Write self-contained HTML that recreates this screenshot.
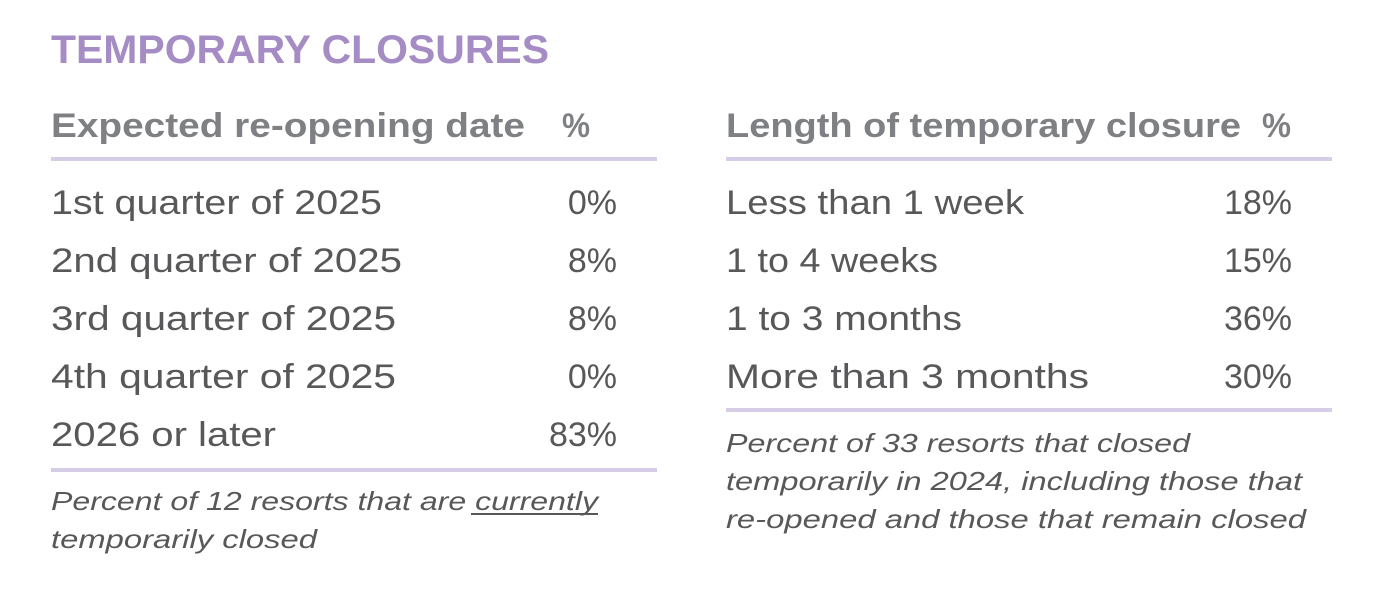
<!DOCTYPE html>
<html><head><meta charset="utf-8"><style>
html,body{margin:0;padding:0;background:#fff;}
svg{display:block;}
text{font-family:"Liberation Sans",sans-serif;}
.t{fill:#a68cc4;font-weight:bold;font-size:40px;}
.h{fill:#7f8084;font-weight:bold;font-size:34px;}
.b{fill:#58585a;font-size:34px;}
.f{fill:#58585a;font-size:26px;font-style:italic;}
</style></head><body>
<svg width="1373" height="597" viewBox="0 0 1373 597" xmlns="http://www.w3.org/2000/svg">
<text class="t" x="51" y="63" textLength="498" lengthAdjust="spacingAndGlyphs">TEMPORARY CLOSURES</text>
<text class="h" x="51" y="137" textLength="474" lengthAdjust="spacingAndGlyphs">Expected re-opening date</text>
<text class="h" x="562" y="137" textLength="28" lengthAdjust="spacingAndGlyphs">%</text>
<text class="h" x="726" y="137" textLength="515" lengthAdjust="spacingAndGlyphs">Length of temporary closure</text>
<text class="h" x="1262" y="137" textLength="29" lengthAdjust="spacingAndGlyphs">%</text>
<rect x="51" y="157" width="606" height="4" fill="#d8cde6"/>
<rect x="726" y="157" width="606" height="4" fill="#d8cde6"/>
<text class="b" x="51" y="214" textLength="331" lengthAdjust="spacingAndGlyphs">1st quarter of 2025</text>
<text class="b" x="51" y="272" textLength="351" lengthAdjust="spacingAndGlyphs">2nd quarter of 2025</text>
<text class="b" x="51" y="330" textLength="345" lengthAdjust="spacingAndGlyphs">3rd quarter of 2025</text>
<text class="b" x="51" y="388" textLength="345" lengthAdjust="spacingAndGlyphs">4th quarter of 2025</text>
<text class="b" x="51" y="446" textLength="225" lengthAdjust="spacingAndGlyphs">2026 or later</text>
<g text-anchor="end">
<text class="b" x="617" y="214">0%</text>
<text class="b" x="617" y="272">8%</text>
<text class="b" x="617" y="330">8%</text>
<text class="b" x="617" y="388">0%</text>
<text class="b" x="617" y="446">83%</text>
<text class="b" x="1292" y="214">18%</text>
<text class="b" x="1292" y="272">15%</text>
<text class="b" x="1292" y="330">36%</text>
<text class="b" x="1292" y="388">30%</text>
</g>
<text class="b" x="726" y="214" textLength="298" lengthAdjust="spacingAndGlyphs">Less than 1 week</text>
<text class="b" x="726" y="272" textLength="212" lengthAdjust="spacingAndGlyphs">1 to 4 weeks</text>
<text class="b" x="726" y="330" textLength="236" lengthAdjust="spacingAndGlyphs">1 to 3 months</text>
<text class="b" x="726" y="388" textLength="363" lengthAdjust="spacingAndGlyphs">More than 3 months</text>
<rect x="51" y="468" width="606" height="4" fill="#d8cde6"/>
<rect x="726" y="408" width="606" height="4" fill="#d8cde6"/>
<text class="f" x="51" y="510" textLength="547" lengthAdjust="spacingAndGlyphs">Percent of 12 resorts that are currently</text>
<rect x="471" y="513" width="127" height="2" fill="#58585a"/>
<text class="f" x="51" y="548" textLength="266" lengthAdjust="spacingAndGlyphs">temporarily closed</text>
<text class="f" x="726" y="452" textLength="464" lengthAdjust="spacingAndGlyphs">Percent of 33 resorts that closed</text>
<text class="f" x="726" y="490" textLength="576" lengthAdjust="spacingAndGlyphs">temporarily in 2024, including those that</text>
<text class="f" x="726" y="528" textLength="580" lengthAdjust="spacingAndGlyphs">re-opened and those that remain closed</text>
</svg>
</body></html>
